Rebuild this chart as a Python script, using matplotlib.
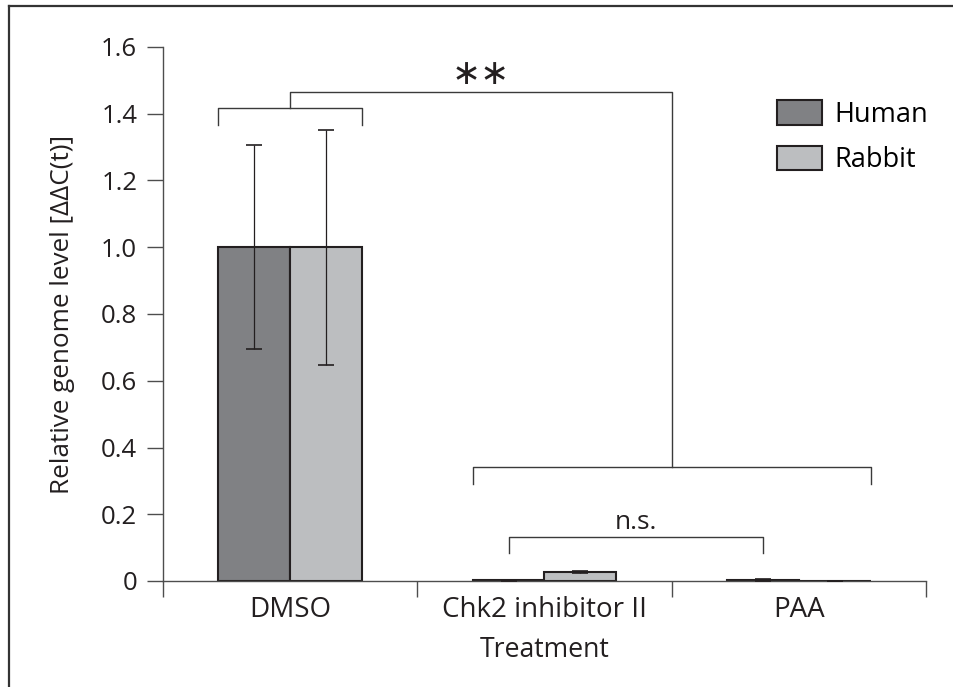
import numpy as np
import matplotlib
matplotlib.use("Agg")
import matplotlib.pyplot as plt
from matplotlib.lines import Line2D
from matplotlib.ticker import FuncFormatter

plt.rcParams['font.family'] = ['Open Sans', 'DejaVu Sans']

groups = ['DMSO', 'Chk2 inhibitor II', 'PAA']
series = ['Human', 'Rabbit']
human = [1.0, 0.002, 0.002]
human_err = [0.305, 0.001, 0.003]
rabbit = [1.0, 0.028, 0.001]
rabbit_err = [0.352, 0.003, 0.0]

colors = ['#808184', '#bcbec0']
edge = '#231f20'
axc = '#4d4d4d'

width = 0.283
x = np.arange(1, len(groups) + 1)

fig = plt.figure(figsize=(9.54, 6.87), dpi=100)
ax = fig.add_axes([163/954, 106/687, 763/954, 534/687])

for i, (vals, errs) in enumerate([(human, human_err), (rabbit, rabbit_err)]):
    xs = x + (i - 0.5) * width
    ax.bar(xs, vals, width, color=colors[i], edgecolor=edge, linewidth=1.5,
           label=series[i], zorder=2)
    ax.errorbar(xs, vals, yerr=errs, fmt='none', ecolor=edge, elinewidth=0.9,
                capsize=6, capthick=1.2, zorder=3)

ax.set_xlim(0.5, 3.5)
ax.set_ylim(0, 1.6)
ax.set_yticks(np.arange(0, 1.61, 0.2))
ax.yaxis.set_major_formatter(FuncFormatter(lambda v, p: '0' if v == 0 else f'{v:.1f}'))
ax.set_xticks(x)
ax.set_xticklabels(groups)
ax.set_xticks([0.5, 1.5, 2.5, 3.5], minor=True)
ax.tick_params(axis='x', which='major', length=0, pad=11, labelsize=20, colors='#231f20')
ax.tick_params(axis='x', which='minor', length=11.5, width=1, color=axc, direction='out')
ax.tick_params(axis='y', length=11.5, width=1, color=axc, pad=7, labelsize=18.5,
               labelcolor='#231f20')
for s in ['top', 'right']:
    ax.spines[s].set_visible(False)
for s in ['left', 'bottom']:
    ax.spines[s].set_color(axc)
    ax.spines[s].set_linewidth(1)

ax.set_ylabel('Relative genome level [ΔΔC(t)]', fontsize=18.8, color='#231f20', va='center')
ax.yaxis.set_label_coords(-0.132, 0.5)
ax.set_xlabel('Treatment', fontsize=19.2, color='#231f20', va='center')
ax.xaxis.set_label_coords(0.5, -0.129)

# significance brackets
bk = dict(color='#3a3a3a', lw=1, zorder=1)
ax.plot([1 - width, 1 - width, 1 + width, 1 + width], [1.365, 1.416, 1.416, 1.365], **bk)
ax.plot([1, 1, 2.5, 2.5], [1.416, 1.464, 1.464, 0.341], **bk)
ax.plot([2 - width, 2 - width, 3 + width, 3 + width], [0.29, 0.341, 0.341, 0.29], **bk)
ax.plot([2 - width/2, 2 - width/2, 3 - width/2, 3 - width/2], [0.084, 0.132, 0.132, 0.084], **bk)
ax.text(1.748, 1.52, '∗∗', ha='center', va='center', fontsize=25, color='#231f20',
        family='DejaVu Sans')
ax.text(2.36, 0.174, 'n.s.', ha='center', va='center', fontsize=19, color='#231f20')

ax.legend(loc='upper left', bbox_to_anchor=(0.805, 0.9), frameon=False, fontsize=19.5,
          handlelength=1.65, handleheight=1.0, handletextpad=0.45, labelspacing=0.62,
          borderpad=0, borderaxespad=0)

# outer frame (top and left edges)
fig.add_artist(Line2D([9/954, 1], [1 - 6/687, 1 - 6/687], color='#333333', lw=1.6))
fig.add_artist(Line2D([9/954, 9/954], [0, 1 - 6/687], color='#333333', lw=1.6))

fig.savefig('out.png', dpi=100)
